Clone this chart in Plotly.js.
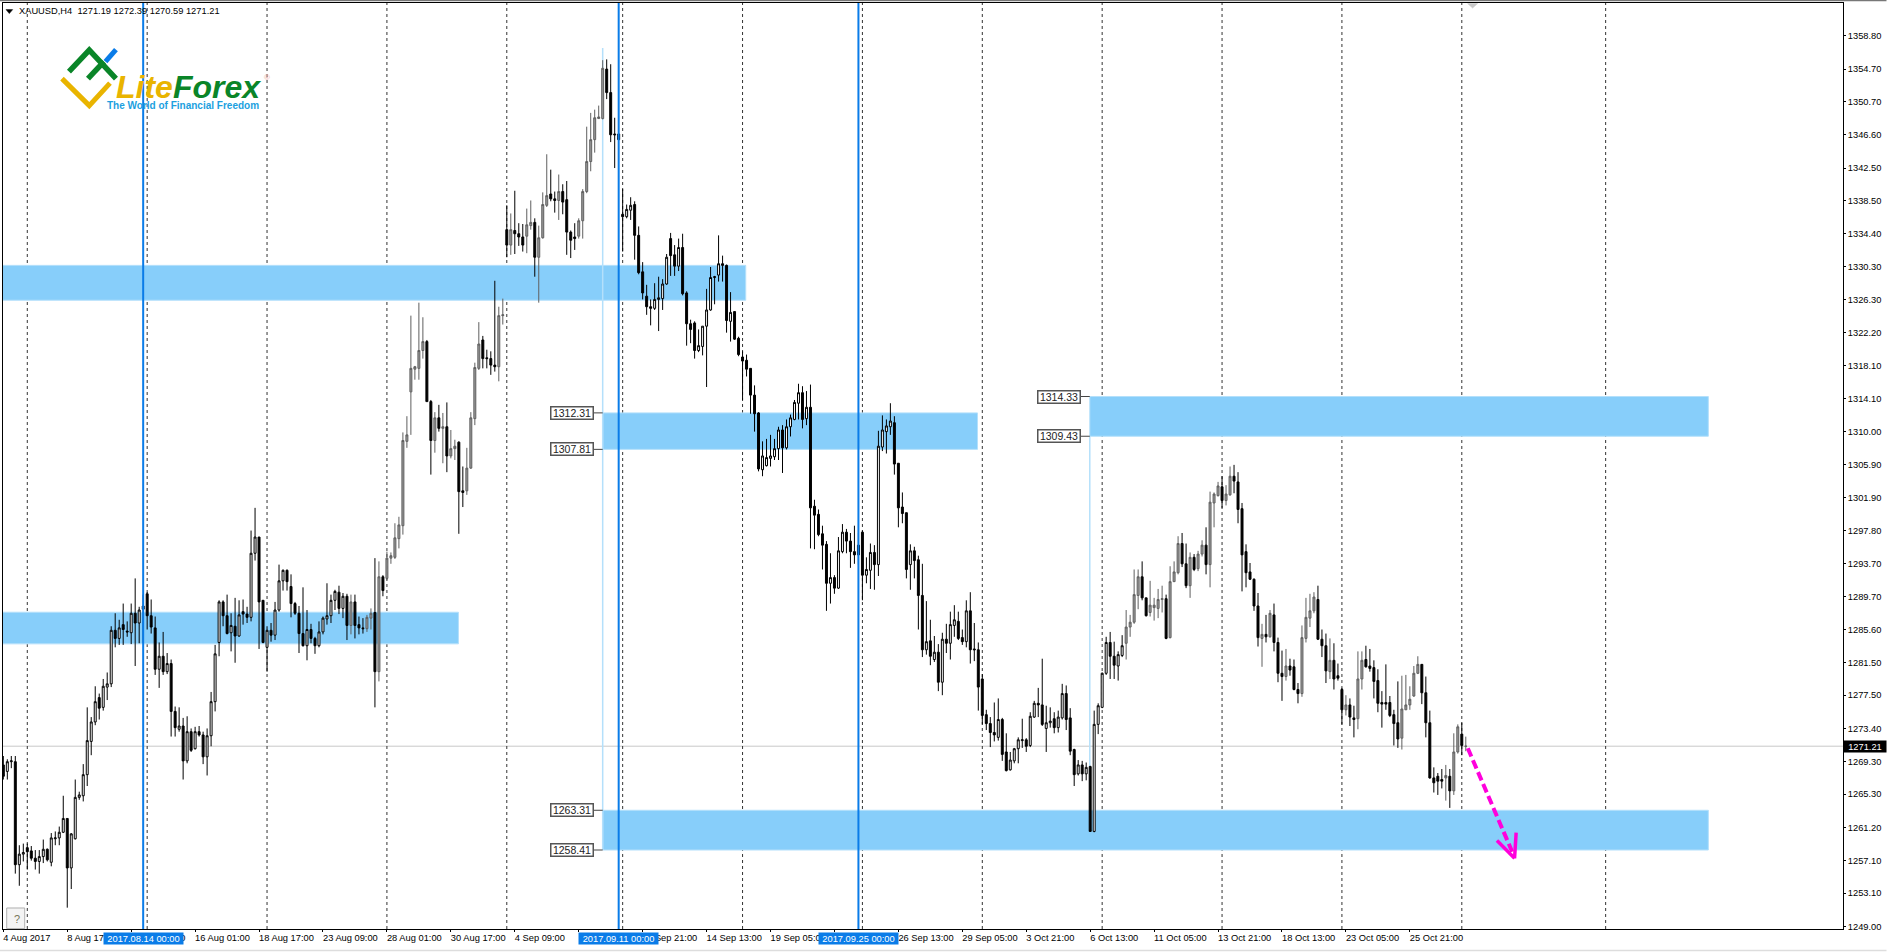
<!DOCTYPE html>
<html>
<head>
<meta charset="utf-8">
<script src="https://cdn.plot.ly/plotly-3.0.1.min.js"></script>
<style>
    html, body { margin: 0; padding: 0; background: #fff; overflow: hidden; }
    #chart { width: 1887px; height: 952px; }
</style>
</head>
<body>
<div id="chart"></div>
<script>
// XAUUSD H4 bars, one value per bar
const opens = [
    1268.9,1268.1,1269.3,1269.3,1256.6,1257.9,1258.7,1258.3,1257.4,1257.0,
    1257.6,1258.5,1256.9,1259.8,1259.9,1260.6,1262.3,1256.2,1259.8,1264.9,
    1265.1,1267.7,1271.8,1274.2,1277.2,1276.0,1278.5,1278.9,1285.5,1284.5,
    1286.2,1285.4,1285.2,1287.6,1286.4,1288.5,1290.0,1287.3,1285.8,1280.7,
    1282.3,1280.4,1281.4,1275.5,1273.3,1273.7,1269.4,1273.0,1270.9,1273.0,
    1272.6,1269.9,1272.5,1276.7,1284.0,1289.0,1287.3,1285.2,1286.0,1284.8,
    1287.8,1287.5,1287.1,1295.0,1297.0,1289.2,1283.4,1285.5,1284.9,1288.0,
    1291.6,1292.9,1290.9,1288.8,1287.6,1285.1,1283.6,1285.6,1284.5,1283.6,
    1285.3,1286.9,1287.3,1289.2,1290.2,1288.2,1289.7,1286.1,1289.0,1286.2,
    1285.8,1285.7,1287.0,1287.7,1280.4,1292.1,1291.9,1294.4,1294.5,1296.8,
    1298.4,1308.8,1314.9,1317.7,1317.8,1320.0,1321.1,1313.7,1308.9,1311.7,
    1310.4,1310.6,1307.0,1307.9,1308.7,1302.7,1302.7,1305.5,1311.6,1317.8,
    1321.3,1319.1,1319.0,1318.2,1318.0,1324.3,1334.9,1333.0,1334.8,1334.4,
    1334.0,1334.1,1335.4,1335.8,1331.5,1333.9,1337.9,1339.3,1338.7,1338.5,
    1339.6,1338.6,1334.6,1334.0,1334.1,1336.0,1339.6,1343.3,1346.0,1348.6,
    1348.6,1354.7,1351.8,1346.7,1346.7,1336.8,1336.5,1337.3,1338.0,1334.2,
    1329.7,1326.7,1325.4,1325.2,1326.3,1326.4,1328.2,1333.8,1331.8,1330.4,
    1332.7,1327.1,1323.3,1323.4,1320.0,1320.5,1323.0,1325.0,1329.0,1329.3,
    1330.7,1330.5,1323.6,1324.8,1321.5,1319.2,1318.8,1317.8,1314.5,1312.3,
    1305.3,1305.8,1306.7,1306.9,1307.9,1310.2,1308.0,1310.6,1311.5,1313.5,
    1314.8,1311.6,1313.0,1300.8,1299.8,1297.4,1296.1,1291.3,1292.0,1290.7,
    1295.2,1297.6,1296.5,1295.2,1296.0,1297.6,1292.3,1292.9,1295.1,1293.6,
    1308.1,1310.0,1310.6,1311.1,1306.1,1300.7,1300.0,1293.6,1295.3,1294.2,
    1289.8,1283.1,1284.2,1281.9,1282.8,1279.1,1284.4,1283.9,1286.1,1286.6,
    1284.6,1284.1,1287.9,1283.2,1283.1,1279.5,1275.1,1274.0,1272.9,1272.3,
    1274.5,1270.5,1268.3,1269.4,1270.9,1271.9,1272.0,1271.3,1274.8,1276.5,
    1276.3,1273.4,1274.1,1274.6,1273.5,1274.7,1277.7,1274.7,1270.8,1267.8,
    1268.9,1267.8,1268.7,1260.7,1273.9,1276.0,1280.2,1284.0,1282.3,1281.1,
    1282.4,1283.9,1285.9,1286.5,1289.8,1292.1,1289.5,1287.7,1288.3,1288.2,
    1289.3,1289.4,1284.6,1291.5,1292.6,1296.2,1293.7,1291.0,1294.5,1293.1,
    1294.9,1296.0,1293.6,1301.2,1302.1,1303.2,1301.5,1302.2,1304.5,1303.8,
    1300.5,1295.2,1292.7,1291.8,1288.5,1284.5,1285.0,1284.7,1287.4,1284.0,
    1280.2,1279.8,1281.1,1281.0,1278.2,1277.7,1284.5,1287.0,1287.9,1289.3,
    1284.4,1283.6,1280.4,1281.8,1279.9,1278.2,1275.7,1276.3,1274.7,1274.6,
    1279.5,1281.9,1281.1,1280.9,1279.3,1276.6,1276.6,1276.6,1275.1,1274.1,
    1272.2,1275.7,1276.3,1277.4,1280.2,1281.3,1277.8,1274.1,1267.3,1267.5,
    1267.1,1267.3,1267.5,1265.7,1270.5,1272.7,1271.19
];
const highs = [
    1270.0,1269.6,1270.0,1270.0,1259.0,1259.2,1259.2,1258.9,1258.4,1258.4,
    1259.7,1258.6,1260.5,1260.7,1261.3,1265.1,1262.3,1260.5,1267.1,1265.6,
    1269.0,1276.0,1274.8,1278.6,1277.7,1279.5,1280.3,1286.0,1287.6,1286.8,
    1288.8,1286.6,1288.8,1291.9,1288.4,1289.9,1290.2,1289.3,1287.2,1284.0,
    1285.3,1282.7,1281.9,1276.1,1276.0,1274.7,1274.9,1273.4,1273.6,1273.7,
    1273.0,1273.4,1277.9,1283.7,1289.2,1289.2,1289.9,1287.6,1289.5,1289.2,
    1289.3,1288.4,1297.8,1300.6,1297.0,1289.2,1286.0,1286.4,1289.0,1293.6,
    1293.0,1293.0,1292.4,1289.0,1288.5,1290.8,1288.0,1286.3,1284.7,1286.6,
    1287.2,1291.3,1289.9,1290.5,1291.0,1290.1,1290.0,1289.9,1289.9,1287.2,
    1287.0,1287.4,1288.2,1294.4,1294.0,1292.3,1295.2,1295.1,1298.7,1299.5,
    1309.9,1311.9,1324.3,1318.1,1325.9,1324.1,1321.3,1313.9,1312.4,1313.3,
    1312.3,1313.6,1310.2,1309.0,1308.8,1305.7,1308.0,1312.4,1318.5,1323.5,
    1321.8,1320.1,1319.9,1328.6,1325.4,1326.4,1337.9,1336.9,1339.7,1335.7,
    1335.6,1337.5,1338.5,1336.3,1335.4,1339.5,1344.2,1342.3,1339.6,1341.7,
    1340.5,1340.9,1334.8,1335.7,1336.3,1339.9,1347.6,1349.3,1349.7,1350.2,
    1355.8,1355.9,1355.3,1348.7,1346.7,1339.9,1338.0,1338.9,1338.4,1335.3,
    1330.9,1328.1,1326.3,1328.3,1329.1,1328.8,1331.9,1334.5,1333.0,1333.8,
    1334.4,1327.3,1323.8,1323.6,1322.6,1323.0,1327.6,1330.3,1329.2,1334.2,
    1331.7,1330.6,1327.2,1324.8,1321.7,1319.9,1319.5,1317.8,1315.7,1312.4,
    1308.8,1309.1,1309.6,1309.1,1310.6,1310.8,1311.5,1312.1,1313.9,1315.9,
    1315.6,1315.0,1315.8,1301.6,1300.4,1298.4,1296.5,1295.0,1292.3,1297.0,
    1298.6,1298.0,1297.5,1298.4,1297.5,1297.8,1294.5,1296.2,1296.0,1310.1,
    1312.0,1311.5,1313.5,1311.9,1306.1,1302.5,1300.0,1296.1,1295.8,1294.7,
    1293.7,1289.1,1286.8,1284.8,1283.8,1285.2,1286.3,1287.8,1288.6,1287.8,
    1285.6,1289.2,1290.2,1286.4,1284.0,1280.1,1275.7,1274.8,1276.6,1277.1,
    1274.7,1272.8,1270.5,1271.0,1272.3,1274.6,1272.2,1275.4,1276.8,1278.4,
    1282.0,1276.2,1276.0,1275.4,1275.6,1278.9,1278.7,1275.9,1270.9,1269.5,
    1269.4,1269.2,1268.8,1275.6,1276.5,1280.3,1284.7,1285.3,1284.1,1282.9,
    1284.9,1288.0,1287.4,1293.0,1293.0,1294.0,1289.5,1291.6,1289.5,1290.6,
    1291.0,1289.9,1293.4,1294.0,1297.1,1297.5,1296.2,1295.1,1294.9,1295.3,
    1296.6,1298.2,1302.6,1302.5,1303.8,1304.5,1303.4,1305.7,1305.9,1305.0,
    1301.2,1296.1,1293.8,1291.9,1290.1,1286.3,1287.4,1288.0,1288.8,1284.6,
    1283.0,1283.2,1282.0,1281.9,1279.0,1286.1,1289.5,1290.0,1290.2,1291.0,
    1285.6,1285.1,1284.5,1283.9,1281.4,1278.4,1277.5,1277.1,1276.2,1282.9,
    1282.9,1283.6,1283.2,1281.8,1280.7,1278.0,1281.3,1277.4,1275.7,1279.2,
    1279.9,1280.0,1278.6,1281.1,1282.3,1281.3,1279.8,1275.6,1268.6,1267.9,
    1268.4,1268.9,1268.4,1272.8,1273.9,1274.1,1272.39
];
const lows = [
    1267.1,1267.1,1268.5,1255.5,1254.0,1257.0,1256.0,1257.1,1256.0,1255.5,
    1256.8,1257.0,1256.4,1259.0,1259.0,1260.5,1251.3,1253.6,1259.7,1264.6,
    1264.4,1266.3,1270.1,1273.8,1274.5,1275.6,1276.9,1278.5,1283.4,1283.7,
    1283.7,1284.7,1283.8,1281.1,1283.9,1283.9,1285.6,1285.1,1280.0,1278.4,
    1280.0,1280.1,1272.4,1272.4,1273.0,1267.1,1269.1,1270.5,1270.8,1272.4,
    1269.0,1267.6,1271.2,1275.5,1282.3,1286.0,1285.0,1282.9,1281.5,1284.7,
    1286.2,1286.4,1286.6,1294.1,1283.2,1283.9,1280.4,1284.1,1284.3,1287.8,
    1290.4,1290.4,1287.1,1287.4,1282.7,1283.5,1281.8,1283.9,1282.6,1283.4,
    1285.0,1286.2,1286.4,1288.0,1287.5,1287.0,1284.3,1285.0,1284.5,1285.0,
    1285.1,1285.3,1285.6,1276.0,1279.2,1289.7,1291.7,1293.7,1294.3,1295.6,
    1297.3,1308.0,1309.6,1316.4,1316.4,1319.0,1313.7,1304.7,1307.4,1310.0,
    1306.1,1305.0,1306.7,1306.5,1297.4,1300.7,1302.2,1305.4,1310.8,1317.6,
    1317.8,1317.8,1317.0,1317.4,1316.2,1323.2,1331.5,1331.8,1331.9,1332.9,
    1332.2,1332.0,1334.9,1329.1,1325.9,1333.8,1337.7,1338.4,1337.0,1336.1,
    1336.8,1331.8,1331.4,1332.4,1333.8,1333.8,1339.4,1342.1,1344.4,1348.6,
    1348.5,1351.0,1345.7,1342.5,1345.9,1332.2,1336.3,1336.1,1331.2,1329.4,
    1326.3,1324.4,1323.1,1325.0,1322.4,1325.0,1328.1,1329.2,1329.2,1329.8,
    1326.8,1320.6,1320.9,1319.0,1319.8,1319.4,1315.5,1324.9,1325.7,1328.5,
    1328.5,1322.2,1321.1,1321.3,1319.3,1313.9,1316.8,1312.2,1310.0,1305.1,
    1304.5,1305.7,1305.7,1306.5,1306.5,1304.9,1307.8,1309.4,1311.4,1311.5,
    1310.4,1310.8,1295.6,1295.5,1297.1,1293.0,1287.9,1288.8,1290.0,1290.6,
    1295.0,1295.0,1293.2,1293.7,1293.6,1289.2,1291.3,1290.6,1290.5,1292.2,
    1307.6,1307.3,1309.6,1304.7,1298.2,1298.7,1291.9,1290.5,1291.9,1285.6,
    1282.2,1282.5,1281.2,1281.6,1278.0,1277.5,1282.7,1281.9,1284.7,1284.3,
    1283.7,1283.4,1281.4,1281.7,1275.6,1273.9,1273.2,1271.1,1271.8,1271.9,
    1269.4,1268.1,1268.2,1269.1,1269.1,1271.0,1270.5,1271.1,1274.7,1274.8,
    1273.7,1270.5,1273.5,1272.8,1272.9,1274.5,1273.2,1270.1,1266.3,1267.6,
    1266.9,1267.0,1260.7,1260.6,1272.7,1275.9,1280.0,1279.5,1279.5,1279.3,
    1282.2,1281.9,1284.7,1286.3,1288.1,1289.2,1287.2,1287.2,1286.7,1287.0,
    1287.7,1284.4,1284.5,1291.5,1292.4,1293.3,1290.7,1289.5,1292.8,1292.8,
    1294.6,1292.4,1290.8,1298.2,1302.0,1300.6,1300.9,1302.1,1302.4,1298.7,
    1290.3,1290.8,1291.7,1287.9,1283.5,1281.0,1284.0,1284.6,1282.9,1279.1,
    1276.8,1279.3,1279.9,1278.1,1276.5,1277.3,1284.0,1285.9,1287.6,1284.3,
    1282.2,1279.0,1279.5,1278.2,1279.3,1273.9,1275.0,1273.7,1272.3,1273.3,
    1278.2,1280.9,1280.4,1277.1,1275.4,1273.5,1275.7,1274.8,1271.3,1271.0,
    1270.8,1275.7,1275.7,1277.3,1280.1,1276.4,1272.3,1267.2,1265.5,1265.2,
    1266.0,1264.5,1263.6,1265.2,1270.3,1270.1,1270.59
];
const closes = [
    1267.5,1269.3,1269.4,1256.6,1257.9,1258.1,1258.2,1257.4,1257.0,1257.6,
    1258.5,1257.2,1259.9,1259.9,1260.6,1262.3,1256.2,1260.4,1264.9,1265.2,
    1267.7,1271.9,1274.2,1276.7,1275.9,1278.6,1278.9,1285.5,1284.5,1285.8,
    1285.6,1285.3,1287.6,1286.4,1288.0,1288.1,1287.3,1285.9,1280.7,1282.3,
    1280.4,1281.4,1275.5,1273.5,1273.7,1269.4,1273.0,1270.7,1273.0,1272.6,
    1269.9,1272.5,1276.7,1282.6,1289.0,1287.3,1285.1,1286.1,1284.8,1287.4,
    1287.5,1287.1,1295.0,1297.0,1289.0,1284.0,1285.5,1284.9,1288.0,1291.6,
    1292.9,1291.5,1288.8,1287.6,1285.1,1283.6,1285.6,1284.5,1283.6,1285.3,
    1287.0,1287.3,1289.2,1290.3,1288.2,1289.7,1286.1,1289.0,1286.1,1285.8,
    1285.7,1287.1,1287.6,1280.4,1292.1,1290.4,1294.4,1294.7,1296.9,1298.5,
    1308.9,1309.6,1317.8,1318.0,1320.0,1321.1,1313.7,1308.9,1311.7,1310.4,
    1310.6,1307.0,1307.9,1308.2,1302.6,1302.5,1305.5,1311.7,1317.9,1320.8,
    1319.0,1319.0,1318.2,1318.0,1324.3,1324.4,1333.0,1334.9,1334.4,1334.0,
    1333.0,1335.5,1335.8,1331.5,1333.9,1338.0,1339.1,1338.7,1338.5,1339.6,
    1338.3,1334.6,1333.6,1333.8,1336.0,1339.6,1343.3,1346.0,1348.7,1348.8,
    1354.8,1351.8,1346.6,1346.6,1346.0,1336.5,1337.4,1337.9,1334.2,1329.6,
    1327.1,1325.4,1325.2,1326.3,1326.5,1328.2,1331.5,1331.7,1330.4,1332.7,
    1327.0,1323.3,1322.6,1320.0,1320.6,1323.0,1325.0,1329.0,1329.1,1330.7,
    1330.5,1323.7,1324.7,1321.4,1319.5,1318.7,1317.7,1314.5,1312.2,1305.4,
    1307.0,1306.8,1307.0,1307.9,1310.2,1308.0,1310.6,1311.7,1313.6,1314.8,
    1311.5,1313.0,1300.6,1299.7,1297.3,1296.0,1291.3,1292.0,1290.7,1295.3,
    1297.6,1296.5,1295.2,1294.8,1294.8,1292.3,1293.0,1295.1,1293.6,1308.2,
    1310.2,1310.7,1311.3,1306.0,1300.6,1299.9,1293.0,1295.3,1294.1,1289.8,
    1283.1,1284.1,1282.3,1282.8,1279.1,1284.4,1283.9,1286.2,1286.8,1284.5,
    1284.1,1287.9,1283.1,1283.1,1278.5,1275.0,1274.0,1272.9,1272.6,1274.5,
    1270.2,1268.2,1269.5,1270.9,1272.0,1272.0,1271.2,1274.9,1276.5,1276.3,
    1273.9,1274.1,1274.3,1273.5,1274.8,1277.7,1274.5,1270.6,1267.7,1268.9,
    1267.8,1268.6,1260.7,1273.9,1276.2,1280.2,1284.0,1282.3,1281.2,1282.5,
    1283.6,1285.9,1286.5,1289.9,1292.1,1289.5,1287.3,1288.6,1288.6,1289.3,
    1289.4,1284.5,1291.5,1292.7,1296.2,1293.7,1291.0,1294.5,1293.0,1294.9,
    1296.0,1293.6,1301.3,1302.3,1303.3,1301.5,1302.3,1304.5,1303.9,1300.4,
    1294.8,1292.6,1291.8,1288.5,1284.6,1285.0,1284.7,1287.6,1284.0,1280.2,
    1279.8,1281.1,1280.6,1278.2,1277.7,1284.6,1287.1,1287.9,1289.6,1284.4,
    1283.6,1280.5,1281.8,1279.5,1279.6,1275.7,1276.3,1274.8,1274.5,1279.5,
    1281.8,1281.0,1280.8,1279.2,1276.5,1276.4,1276.4,1275.0,1274.0,1272.1,
    1275.8,1276.3,1277.0,1280.2,1281.3,1277.8,1274.1,1267.3,1266.7,1266.9,
    1266.9,1267.6,1265.7,1270.5,1273.6,1271.3,1271.21
];

const priceTicks = [
    1358.80,1354.70,1350.70,1346.60,1342.50,1338.50,1334.40,1330.30,1326.30,1322.20,
    1318.10,1314.10,1310.00,1305.90,1301.90,1297.80,1293.70,1289.70,1285.60,1281.50,
    1277.50,1273.40,1269.30,1265.30,1261.20,1257.10,1253.10,1249.00
];
const timeTickBars = [0,16,32,48,64,80,96,112,128,144,160,176,192,208,224,240,256,272,288,304,320,336,352];
// two labels sit fully under the date boxes in the picture, so they stay blank
const timeTickLabels = [
    "4 Aug 2017","8 Aug 17:00","11 Aug 09:00","16 Aug 01:00","18 Aug 17:00","23 Aug 09:00",
    "28 Aug 01:00","30 Aug 17:00","4 Sep 09:00","","11 Sep 21:00","14 Sep 13:00",
    "19 Sep 05:00","","26 Sep 13:00","29 Sep 05:00","3 Oct 21:00","6 Oct 13:00",
    "11 Oct 05:00","13 Oct 21:00","18 Oct 13:00","23 Oct 05:00","25 Oct 21:00"
];
const separatorBars = [6,36,66,96,126,155,185,215,245,275,305,335,365,401];

const markerBars = [35,154,214];
const markerLabels = ["2017.08.14 00:00","2017.09.11 00:00","2017.09.25 00:00"];

// [first bar, last bar, top price, bottom price]
const zones = [
    [-1,185.8,1330.5,1326.2],
    [-1,113.9,1287.73,1283.83],
    [150,243.8,1312.31,1307.81],
    [150,426.7,1263.31,1258.41],
    [271.9,426.7,1314.33,1309.43]
];
// [label bar, zone start bar, price]
const zoneLabels = [
    [142.3,150,1312.31],
    [142.3,150,1307.81],
    [142.3,150,1263.31],
    [142.3,150,1258.41],
    [264.2,271.9,1314.33],
    [264.2,271.9,1309.43]
];
// bar ranges where the picture renders the candles softer, in grey
const softBarRanges = [[86,150],[281,366]];

const lastPrice = 1271.21;
const headerText = "XAUUSD,H4  1271.19 1272.39 1270.59 1271.21";

const FONT = '"Liberation Sans", sans-serif';
const LEFT = 3;
const RIGHT = 43.5;
const TOP = 3.4;
const BOTTOM = 23;
const WIDTH = 1887;
const HEIGHT = 952;

function paperX(px) {
    return (px - LEFT) / (WIDTH - LEFT - RIGHT);
}

function paperY(py) {
    return 1 - (py - TOP) / (HEIGHT - TOP - BOTTOM);
}

function pixelPath(points, close) {
    const parts = points.map((p, i) => `${i === 0 ? "M" : "L"}${paperX(p[0])},${paperY(p[1])}`);
    return parts.join(" ") + (close ? " Z" : "");
}

function pathShape(points, colour, width, fill) {
    return {
        type: "path",
        xref: "paper",
        yref: "paper",
        path: pixelPath(points, Boolean(fill)),
        fillcolor: fill || "rgba(0,0,0,0)",
        line: { color: colour, width: width },
        layer: "above"
    };
}

function pixelLabel(text, x, y, size, colour) {
    return {
        text: text,
        xref: "paper",
        yref: "paper",
        x: paperX(x),
        y: paperY(y),
        xanchor: "left",
        yanchor: "middle",
        showarrow: false,
        font: { family: FONT, size: size, color: colour }
    };
}

function createZoneShapes() {
    return zones.map((z) => ({
        type: "rect",
        layer: "below",
        xref: "x",
        yref: "y",
        x0: z[0],
        x1: z[1],
        y0: z[3],
        y1: z[2],
        fillcolor: "#87cefa",
        line: { color: "#b4e0fb", width: 1 }
    }));
}

function createSeparatorShapes() {
    return separatorBars.map((bar) => ({
        type: "line",
        layer: "below",
        xref: "x",
        yref: "paper",
        x0: bar,
        x1: bar,
        y0: 0,
        y1: 1,
        line: { color: "#333333", width: 1, dash: "3px,3px" }
    }));
}

function createMarkerShapes() {
    return markerBars.map((bar) => ({
        type: "line",
        layer: "above",
        xref: "x",
        yref: "paper",
        x0: bar,
        x1: bar,
        y0: 0,
        y1: 1,
        line: { color: "#0a7ce8", width: 2 }
    }));
}

function createLightLine(bar, top, bottom) {
    return {
        type: "line",
        layer: "below",
        xref: "x",
        yref: "y",
        x0: bar,
        x1: bar,
        y0: bottom,
        y1: top,
        line: { color: "#b4e0fb", width: 1.5 }
    };
}

function createZoneConnectors() {
    return zoneLabels.map((l) => ({
        type: "line",
        layer: "below",
        xref: "x",
        yref: "y",
        x0: l[0] + 5.3,
        x1: l[1],
        y0: l[2],
        y1: l[2],
        line: { color: "#444444", width: 1 }
    }));
}

function createArrowShapes() {
    const arrow = { type: "line", layer: "above", xref: "x", yref: "y" };
    const magenta = "#ff00dc";
    return [
        { ...arrow, x0: 366.5, x1: 377.6, y0: 1270.96, y1: 1258.2, line: { color: magenta, width: 4, dash: "9px,4px" } },
        { ...arrow, x0: 378.2, x1: 373.8, y0: 1257.39, y1: 1259.57, line: { color: magenta, width: 3.5 } },
        { ...arrow, x0: 378.2, x1: 378.6, y0: 1257.39, y1: 1260.55, line: { color: magenta, width: 3.5 } }
    ];
}

function createLogoShapes() {
    return [
        pathShape([[62, 79], [89.3, 106], [110, 83.5]], "#e9b400", 5),
        pathShape([[69, 72], [89.3, 50.5], [116, 79]], "#0a8528", 5.5),
        pathShape([[88, 79], [104, 62]], "#0a8528", 5.5),
        pathShape([[105.5, 62], [116, 50]], "#0a7ce8", 5)
    ];
}

function createChromeShapes() {
    return [
        pathShape([[0, 0.8], [WIDTH, 0.8]], "#777777", 1.5),
        pathShape([[0, 950.5], [WIDTH, 950.5]], "#dddddd", 1.5),
        pathShape([[6, 10], [12.7, 10], [9.3, 14]], "#000000", 0.5, "#000000"),
        pathShape([[1468, 4], [1478, 4], [1473, 8.5]], "#c8c8c8", 0.5, "#c8c8c8"),
        pathShape([[6.7, 908], [24.7, 908], [24.7, 928.6], [6.7, 928.6]], "#b0b0b0", 1, "#f4f4f4")
    ];
}

function createLastPriceLine() {
    return {
        type: "line",
        layer: "below",
        xref: "paper",
        yref: "y",
        x0: 0,
        x1: 1,
        y0: lastPrice,
        y1: lastPrice,
        line: { color: "#c8c8c8", width: 1 }
    };
}

function createMarkerLabels() {
    return markerBars.map((bar, i) => ({
        text: markerLabels[i],
        xref: "x",
        yref: "paper",
        x: bar,
        y: 0,
        yshift: -9,
        xanchor: "center",
        yanchor: "middle",
        showarrow: false,
        width: 79,
        height: 11,
        borderpad: 0,
        bgcolor: "#0a7ce8",
        font: { family: FONT, size: 9.3, color: "#ffffff" }
    }));
}

function createZoneLabels() {
    return zoneLabels.map((l) => ({
        text: l[2].toFixed(2),
        xref: "x",
        yref: "y",
        x: l[0],
        y: l[2],
        xanchor: "center",
        showarrow: false,
        width: 41,
        height: 11,
        borderpad: 0,
        borderwidth: 1.5,
        bordercolor: "#555555",
        bgcolor: "#ffffff",
        font: { family: FONT, size: 10.5, color: "#222222" }
    }));
}

function createTextLabels() {
    return [
        pixelLabel(headerText, 17.2, 11.7, 9.3, "#000000"),
        pixelLabel('<b><i><span style="color:#e9b400">Lite</span><span style="color:#0a8528">Forex</span></i></b>', 114, 87, 32, "#0a8528"),
        pixelLabel("<b>The World of Financial Freedom</b>", 105, 105.7, 10, "#1c9fe0"),
        pixelLabel("®", 262, 78, 8, "#e8a8a0"),
        pixelLabel("?", 12, 919, 11, "#77775a"),
        {
            text: lastPrice.toFixed(2),
            xref: "paper",
            yref: "y",
            x: paperX(1866),
            y: lastPrice,
            xanchor: "center",
            showarrow: false,
            width: 42,
            height: 11,
            borderpad: 0,
            bgcolor: "#000000",
            font: { family: FONT, size: 9.3, color: "#ffffff" }
        }
    ];
}

function createCandleTrace(first, last, soft) {
    const bars = opens.map((_, i) => i).slice(first, last + 1);
    const lineColour = soft ? "#5f5f5f" : "#000000";
    return {
        type: "candlestick",
        x: bars,
        open: opens.slice(first, last + 1),
        high: highs.slice(first, last + 1),
        low: lows.slice(first, last + 1),
        close: closes.slice(first, last + 1),
        whiskerwidth: 0,
        increasing: { line: { color: lineColour, width: 1 }, fillcolor: soft ? "#9a9a9a" : "#ffffff" },
        decreasing: { line: { color: "#000000", width: 1 }, fillcolor: "#000000" },
        hoverinfo: "skip",
        showlegend: false
    };
}

function createCandleTraces() {
    const traces = [];
    let next = 0;
    softBarRanges.forEach((range) => {
        traces.push(createCandleTrace(next, range[0] - 1, false));
        traces.push(createCandleTrace(range[0], range[1], true));
        next = range[1] + 1;
    });
    return traces;
}

const layout = {
    width: WIDTH,
    height: HEIGHT,
    margin: { l: LEFT, r: RIGHT, t: TOP, b: BOTTOM, pad: 0 },
    paper_bgcolor: "#ffffff",
    plot_bgcolor: "#ffffff",
    showlegend: false,
    dragmode: false,
    hovermode: false,
    font: { family: FONT, size: 9.3, color: "#000000" },
    xaxis: {
        type: "linear",
        range: [-0.08, 460.4],
        rangeslider: { visible: false },
        showgrid: false,
        zeroline: false,
        showline: true,
        mirror: true,
        linecolor: "#000000",
        linewidth: 1,
        tickmode: "array",
        tickvals: timeTickBars,
        ticktext: timeTickLabels,
        ticks: "outside",
        ticklen: 2,
        tickwidth: 1,
        tickcolor: "#000000",
        ticklabelposition: "outside right",
        ticklabelshift: -1,
        tickangle: 0,
        tickfont: { family: FONT, size: 9.3, color: "#000000" }
    },
    yaxis: {
        side: "right",
        range: [1248.67, 1362.85],
        showgrid: false,
        zeroline: false,
        showline: true,
        mirror: true,
        linecolor: "#000000",
        linewidth: 1,
        tickmode: "array",
        tickvals: priceTicks,
        ticktext: priceTicks.map((v) => v.toFixed(2)),
        ticks: "outside",
        ticklen: 2,
        tickwidth: 1,
        tickcolor: "#000000",
        tickfont: { family: FONT, size: 9.3, color: "#000000" }
    },
    shapes: [
        ...createZoneShapes(),
        createLightLine(150, 1357.3, 1258.41),
        createLightLine(271.9, 1309.43, 1263.31),
        ...createZoneConnectors(),
        createLastPriceLine(),
        ...createSeparatorShapes(),
        ...createMarkerShapes(),
        ...createArrowShapes(),
        ...createLogoShapes(),
        ...createChromeShapes()
    ],
    annotations: [
        ...createMarkerLabels(),
        ...createZoneLabels(),
        ...createTextLabels()
    ]
};

Plotly.newPlot("chart", createCandleTraces(), layout, { displayModeBar: false, staticPlot: true });
</script>
</body>
</html>
